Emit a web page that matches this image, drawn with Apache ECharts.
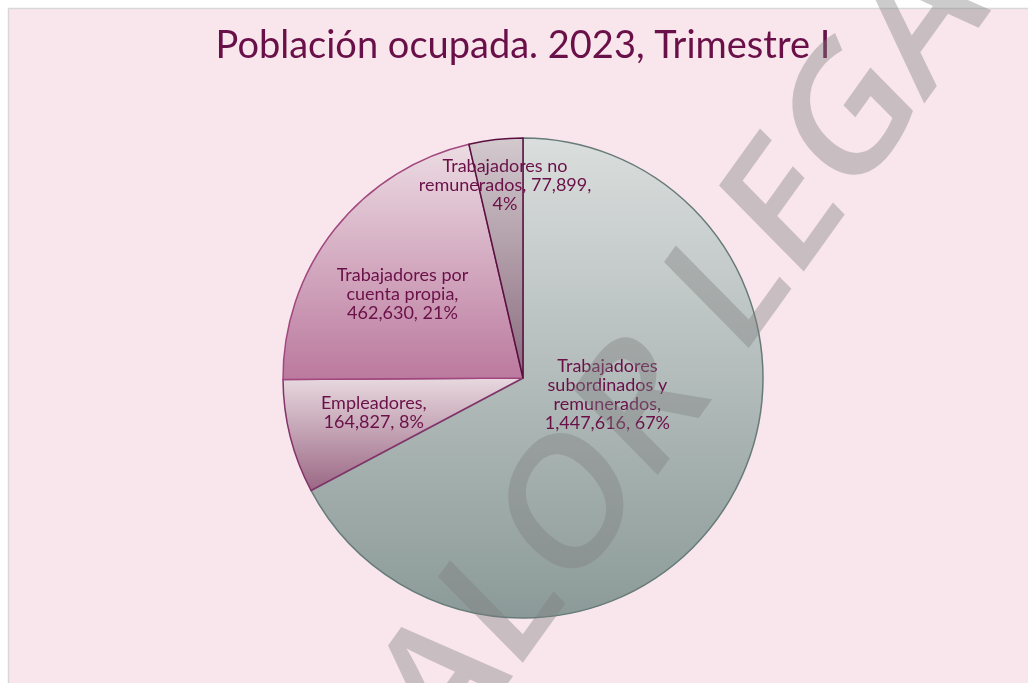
<!DOCTYPE html>
<html>
<head>
<meta charset="utf-8">
<script src="https://cdn.jsdelivr.net/npm/echarts@6/dist/echarts.min.js"></script>
<style>
html,body{margin:0;padding:0;background:#ffffff;}
#chart{width:1028px;height:683px;}
</style>
</head>
<body>
<div id="chart"></div>
<script>
// ---- data ----
const titleText = 'Población ocupada. 2023, Trimestre I';
const categories = [
  'Trabajadores subordinados y remunerados',
  'Empleadores',
  'Trabajadores por cuenta propia',
  'Trabajadores no remunerados'
];
const values = [1447616, 164827, 462630, 77899];
const labelTemplates = [
  'Trabajadores\nsubordinados y\nremunerados,\n{v}, {p}%',
  'Empleadores,\n{v}, {p}%',
  'Trabajadores por\ncuenta propia,\n{v}, {p}%',
  'Trabajadores no\nremunerados, {v},\n{p}%'
];
const watermarkText = 'VALOR LEGAL';

// ---- styles ----
const sliceStyles = [
  {top: '#dadedd', bottom: '#8b9a98', border: '#667b78'},
  {top: '#e8d9df', bottom: '#9a6784', border: '#84336a'},
  {top: '#ecdce3', bottom: '#bb799e', border: '#a2487f'},
  {top: '#d3cace', bottom: '#8a6c7e', border: '#5a0f40'}
];
const labelOffsets = [[-21, -47], [-30, 5], [-24, -8], [-4, -71]];
const textColor = '#6a1048';

const chart = echarts.init(document.getElementById('chart'), null, {renderer: 'canvas'});

const data = categories.map((name, i) => ({
  name: name,
  value: values[i],
  itemStyle: {
    color: new echarts.graphic.LinearGradient(0, 0, 0, 1, [
      {offset: 0, color: sliceStyles[i].top},
      {offset: 1, color: sliceStyles[i].bottom}
    ]),
    borderColor: sliceStyles[i].border,
    borderWidth: 1.5
  },
  label: {offset: labelOffsets[i]}
}));

const option = {
  backgroundColor: '#ffffff',
  animation: false,
  title: {
    text: titleText,
    left: 518,
    textAlign: 'center',
    top: 22,
    textStyle: {
      fontFamily: 'Lato',
      fontWeight: 'normal',
      fontSize: 38,
      color: textColor
    }
  },
  graphic: [
    {
      type: 'rect',
      z: -10,
      shape: {x: 8.5, y: 8.5, width: 1100, height: 760},
      style: {fill: '#f9e6ec', stroke: '#d8d8d8', lineWidth: 1.5}
    },
    {
      type: 'group',
      z: 100,
      x: 681,
      y: 361,
      scaleY: 1.19,
      silent: true,
      children: [{
        type: 'text',
        z: 100,
        x: 0,
        y: 0,
        rotation: 49.5 * Math.PI / 180,
        style: {
          text: watermarkText,
          fontFamily: 'Open Sans',
          fontWeight: 600,
          fontSize: 156,
          fill: 'rgba(128,128,128,0.4)',
          textAlign: 'center',
          textVerticalAlign: 'middle'
        }
      }]
    }
  ],
  series: [{
    type: 'pie',
    center: [523, 378],
    radius: 240,
    startAngle: 90,
    clockwise: true,
    percentPrecision: 0,
    avoidLabelOverlap: false,
    data: data,
    label: {
      show: true,
      position: 'inside',
      color: textColor,
      fontFamily: 'Lato',
      fontSize: 18,
      lineHeight: 19,
      align: 'center',
      formatter: function (p) {
        return labelTemplates[p.dataIndex]
          .replace('{v}', p.value.toLocaleString('en-US'))
          .replace('{p}', Math.round(p.percent));
      }
    },
    labelLine: {show: false},
    emphasis: {disabled: true}
  }]
};
chart.setOption(option);
</script>
</body>
</html>
